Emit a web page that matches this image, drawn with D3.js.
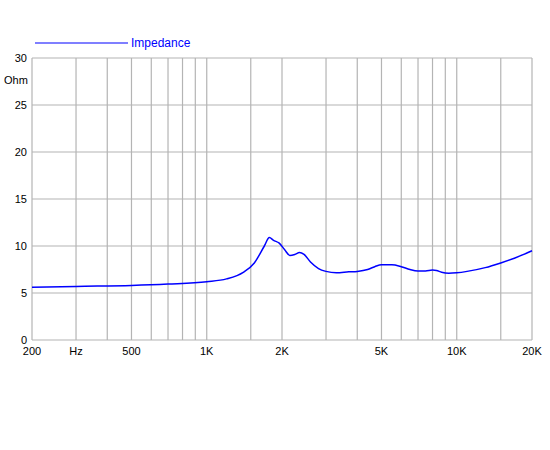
<!DOCTYPE html>
<html><head><meta charset="utf-8">
<script src="https://cdn.jsdelivr.net/npm/d3@7"></script>
<style>body{margin:0;background:#fff}text{font-family:"Liberation Sans",Arial,sans-serif}</style>
</head><body>
<svg id="c" width="550" height="450"></svg>
<script>
// impedance curve
const freq = [200,300,500,700,1000,1200,1400,1550,1700,1780,1850,1950,2050,2150,2250,2350,2450,2600,2800,3000,3300,3700,4000,4400,4700,5000,5500,6000,6500,7000,7500,8000,8300,8700,9300,10000,11000,13000,15000,17000,20000];
const ohm  = [5.6,5.7,5.8,5.95,6.2,6.5,7.2,8.2,10,10.9,10.6,10.3,9.6,9.0,9.1,9.3,9.1,8.3,7.6,7.3,7.15,7.25,7.3,7.5,7.8,8.0,8.0,7.8,7.5,7.35,7.35,7.45,7.4,7.2,7.1,7.15,7.3,7.7,8.2,8.7,9.5];
const gridX = [300,400,500,600,700,800,900,1000,1500,2000,3000,4000,5000,6000,7000,8000,9000,10000,15000,20000];
const xTicks = [200,300,500,1000,2000,5000,10000,20000];
const xLabels = ["200","Hz","500","1K","2K","5K","10K","20K"];
const yTicks = [0,5,10,15,20,25,30];

const svg = d3.select('#c');
const x = d3.scaleLog().domain([200,20000]).range([32,532]);
const y = d3.scaleLinear().domain([0,30]).range([340,58]);

svg.append('g').selectAll('line').data(gridX).enter().append('line')
  .attr('x1', d => x(d)).attr('x2', d => x(d)).attr('y1', 58).attr('y2', 340)
  .attr('stroke', '#b4b4b4').attr('stroke-width', 1.2);
svg.append('g').selectAll('line').data(yTicks).enter().append('line')
  .attr('x1', 32).attr('x2', 532).attr('y1', d => y(d)).attr('y2', d => y(d))
  .attr('stroke', '#b4b4b4').attr('stroke-width', 1.2);
svg.append('line').attr('x1', 32).attr('x2', 32).attr('y1', 58).attr('y2', 340).attr('stroke', '#b4b4b4').attr('stroke-width', 1.2);

svg.append('g').selectAll('text').data(yTicks).enter().append('text')
  .attr('x', 27).attr('y', d => y(d) + 4).attr('text-anchor', 'end')
  .attr('font-size', 11).text(d => d);
svg.append('text').attr('x', 4).attr('y', 84).attr('font-size', 11).text('Ohm');
svg.append('g').selectAll('text').data(xTicks).enter().append('text')
  .attr('x', d => x(d)).attr('y', 355).attr('text-anchor', 'middle')
  .attr('font-size', 11).text((d, i) => xLabels[i]);

svg.append('path').datum(d3.zip(freq, ohm))
  .attr('d', d3.line().x(d => x(d[0])).y(d => y(d[1])).curve(d3.curveMonotoneX))
  .attr('fill', 'none').attr('stroke', '#0000ff').attr('stroke-width', 1.5);

svg.append('line').attr('x1', 35).attr('x2', 128).attr('y1', 43).attr('y2', 43)
  .attr('stroke', '#0000ff').attr('stroke-width', 1.2);
svg.append('text').attr('x', 131).attr('y', 47).attr('font-size', 12).attr('fill', '#0000ff').text('Impedance');
</script>
</body></html>
